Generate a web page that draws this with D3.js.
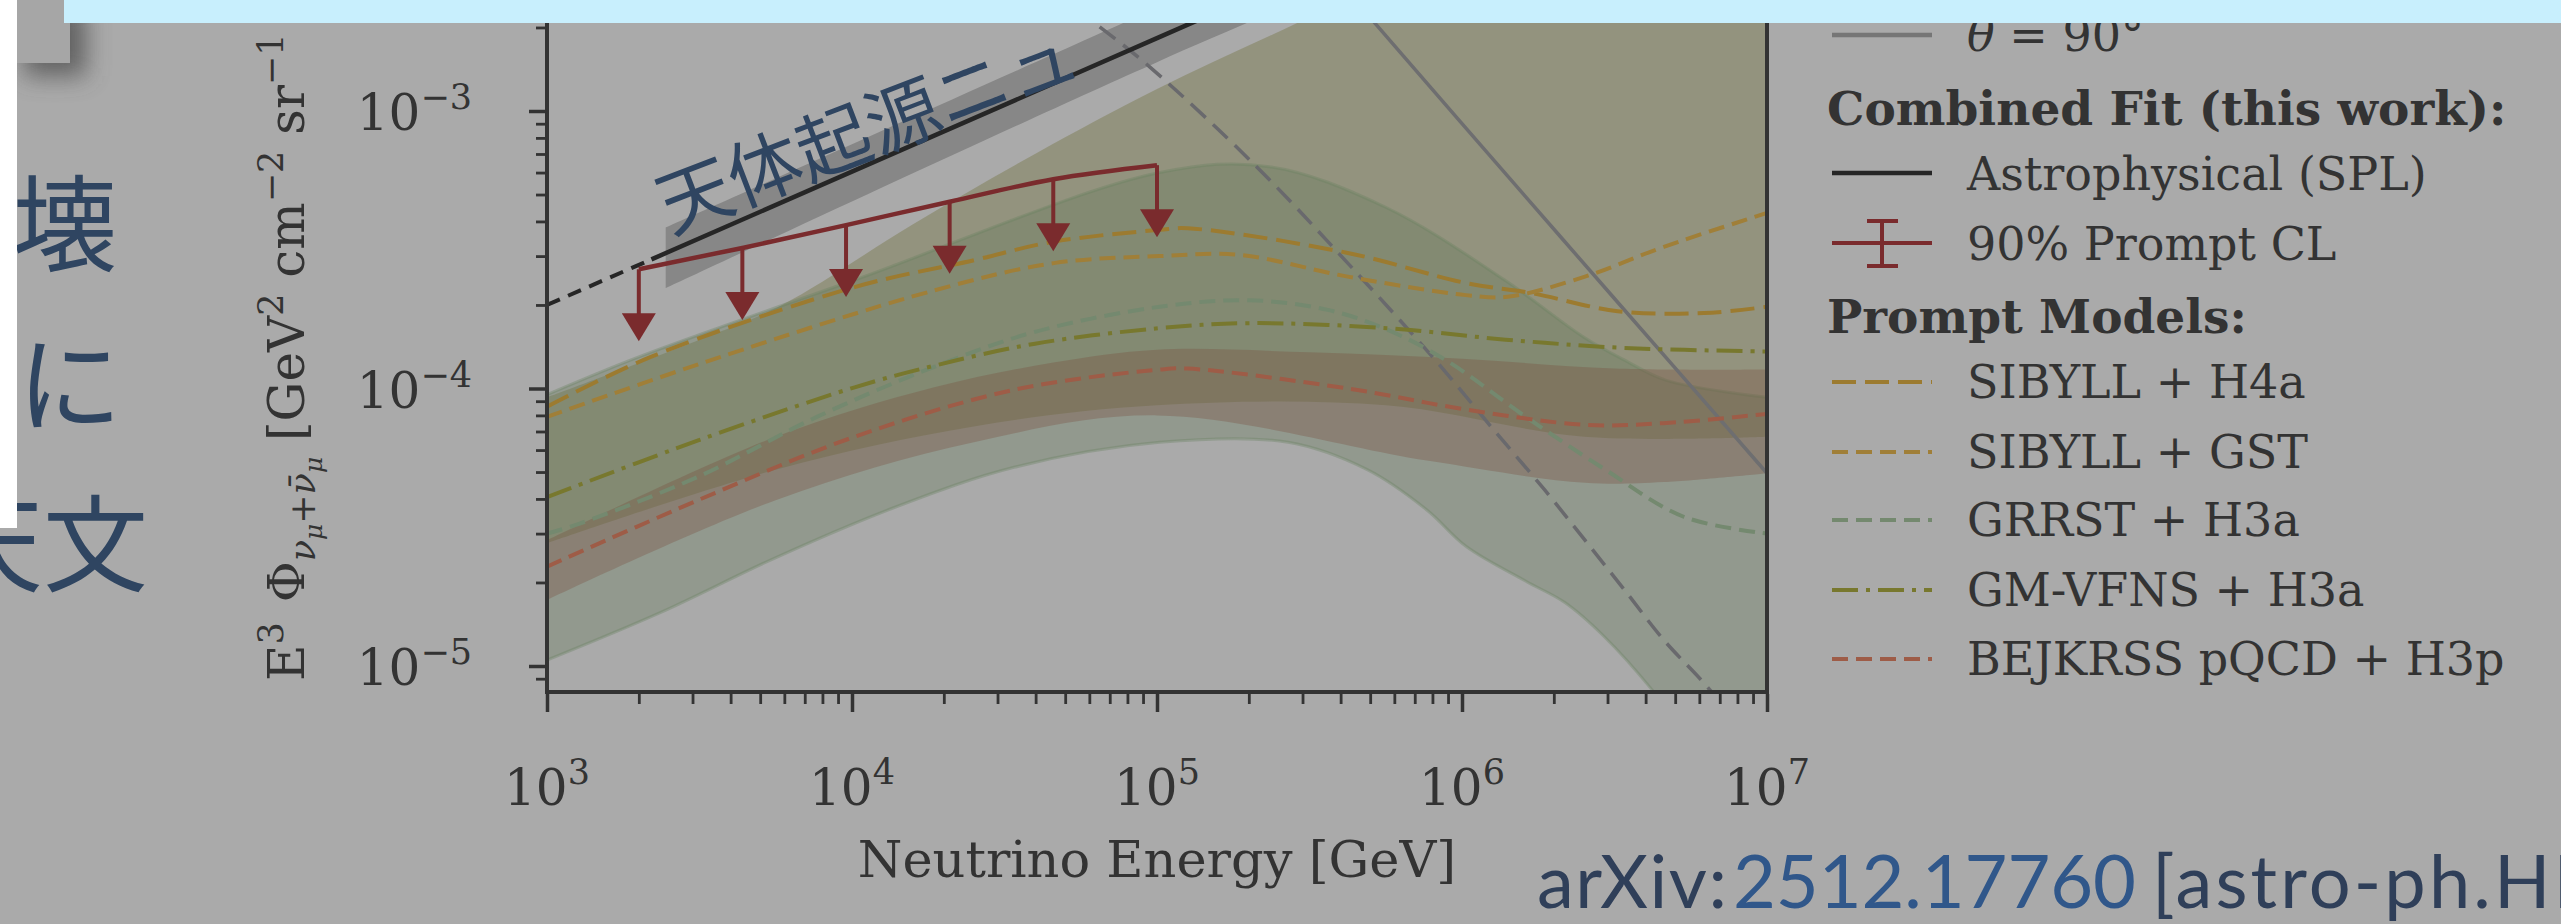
<!DOCTYPE html>
<html><head><meta charset="utf-8">
<script src="https://cdn.jsdelivr.net/npm/d3@7"></script>
<style>html,body{margin:0;padding:0;background:#aaaaaa;overflow:hidden}</style>
</head><body>
<svg id="chart" width="2561" height="924"></svg>
<script>
// ---------------- data ----------------
const xTickValues = [1e3, 1e4, 1e5, 1e6, 1e7];
const xTickExponents = ["3", "4", "5", "6", "7"];
const yTickValues = [1e-5, 1e-4, 1e-3];
const yTickExponents = ["\u22125", "\u22124", "\u22123"];

// SIBYLL + H4a
const h4aE = [1e3, 2190, 10200, 25100, 45700, 102000, 126000, 422000, 1030000, 1680000, 3240000, 6210000, 1e7];
const h4aV = [8.6e-5, 1.30e-4, 2.32e-4, 2.90e-4, 3.38e-4, 3.73e-4, 3.78e-4, 3.08e-4, 2.40e-4, 2.21e-4, 1.90e-4, 1.87e-4, 1.97e-4];
// SIBYLL + GST
const gstE = [1e3, 3630, 18700, 45900, 102000, 186000, 422000, 1030000, 1410000, 2530000, 4590000, 1e7];
const gstV = [7.9e-5, 1.29e-4, 2.26e-4, 2.83e-4, 3.00e-4, 3.03e-4, 2.53e-4, 2.17e-4, 2.14e-4, 2.53e-4, 3.24e-4, 4.29e-4];
// GRRST + H3a
const grrstE = [1e3, 1280, 3130, 7670, 18700, 39800, 102000, 200000, 363000, 568000, 891000, 1620000, 2950000, 5330000, 1e7];
const grrstV = [3.0e-5, 3.26e-5, 4.81e-5, 7.9e-5, 1.2e-4, 1.6e-4, 1.97e-4, 2.08e-4, 1.92e-4, 1.63e-4, 1.26e-4, 7.9e-5, 5.1e-5, 3.45e-5, 3.0e-5];
// GM-VFNS + H3a
const gmE = [1e3, 3130, 10200, 18700, 39800, 102000, 200000, 568000, 1390000, 3410000, 1e7];
const gmV = [4.06e-5, 6.5e-5, 1.01e-4, 1.21e-4, 1.45e-4, 1.65e-4, 1.72e-4, 1.65e-4, 1.50e-4, 1.40e-4, 1.36e-4];
// BEJKRSS pQCD + H3p
const bejE = [1e3, 3130, 10200, 34100, 102000, 126000, 422000, 1030000, 2530000, 4570000, 1e7];
const bejV = [2.28e-5, 3.96e-5, 6.7e-5, 9.9e-5, 1.17e-4, 1.18e-4, 1.0e-4, 8.4e-5, 7.4e-5, 7.5e-5, 8.1e-5];

// uncertainty bands
const khakiUpE = [1e3, 3160, 5890, 15800, 39800, 100000, 295000, 1e6, 1e7];
const khakiUpV = [9.3e-5, 1.5e-4, 2.0e-4, 3.9e-4, 7.0e-4, 1.2e-3, 2.1e-3, 4e-3, 1e-2];
const khakiLoE = [1e3, 5620, 25100, 100000, 562000, 2510000, 1e7];
const khakiLoV = [2.77e-5, 5.1e-5, 7.3e-5, 8.7e-5, 8.7e-5, 6.7e-5, 6.7e-5];

const greenUpE = [1e3, 2000, 10200, 102000, 234000, 562000, 1380000, 2510000, 3390000, 4680000, 1e7];
const greenUpV = [9.5e-5, 1.3e-4, 2.46e-4, 6.0e-4, 6.3e-4, 4.5e-4, 2.46e-4, 1.53e-4, 1.27e-4, 1.07e-4, 9.3e-5];
const greenLoE = [1e3, 2330, 5680, 13900, 34000, 102000, 269000, 489000, 767000, 1030000, 1620000, 2180000, 2940000, 4200000, 6310000, 1e7];
const greenLoV = [1.05e-5, 1.55e-5, 2.47e-5, 3.74e-5, 5.2e-5, 6.4e-5, 6.4e-5, 5.1e-5, 3.65e-5, 2.7e-5, 2.02e-5, 1.69e-5, 1.27e-5, 8.2e-6, 4.5e-6, 2.5e-6];

const brownUpE = [1e3, 5620, 18600, 45700, 100000, 316000, 1e6, 3160000, 1e7];
const brownUpV = [2.84e-5, 6.7e-5, 1.01e-4, 1.24e-4, 1.38e-4, 1.35e-4, 1.28e-4, 1.18e-4, 1.17e-4];
const brownLoE = [1e3, 5620, 25100, 100000, 767000, 2530000, 4590000, 1e7];
const brownLoV = [1.73e-5, 3.96e-5, 6.4e-5, 8.0e-5, 5.5e-5, 4.57e-5, 4.6e-5, 4.95e-5];

// astrophysical SPL fit
const astroDashE = [1e3, 2200];
const astroDashV = [2.0e-4, 2.92e-4];
const astroLineE = [2200, 100000, 1e6];
const astroLineV = [2.92e-4, 1.83e-3, 5.55e-3];
const astroBandE = [2450, 100000, 1e6];
const astroBandUp = [3.8e-4, 2.35e-3, 7.2e-3];
const astroBandLo = [2.3e-4, 1.5e-3, 4.4e-3];

// 90% prompt upper limits
const limitE = [2000, 4370, 9560, 20900, 45700, 100000];
const limitV = [2.69e-4, 3.21e-4, 3.88e-4, 4.71e-4, 5.68e-4, 6.38e-4];

// gray reference lines
const grayDashE = [31600, 62700, 94800, 212000, 422000, 815000, 1270000, 1870000, 2530000, 3410000, 4590000, 6380000, 1e7];
const grayDashV = [3.7e-3, 2.07e-3, 1.44e-3, 6.3e-4, 2.83e-4, 1.27e-4, 7.1e-5, 4.3e-5, 2.84e-5, 1.88e-5, 1.24e-5, 8.4e-6, 4.6e-6];
const graySolidE = [316000, 519000, 1e6, 3160000, 1e7];
const graySolidV = [3.87e-3, 2.07e-3, 9.0e-4, 2.11e-4, 4.95e-5];

const legendLabels = ["SIBYLL + H4a", "SIBYLL + GST", "GRRST + H3a", "GM-VFNS + H3a", "BEJKRSS pQCD + H3p"];
const modelColors = ["#9c7b30", "#a07f38", "#74896f", "#78782e", "#9e5c47"];
const modelDashes = ["24,9", "16,8", "16,8", "26,8,4,8", "16,8"];

// ---------------- drawing ----------------
const svg = d3.select('#chart');
const serif = "'DejaVu Serif', serif";
const ink = "#333333";

svg.append('rect').attr('width', 2561).attr('height', 924).attr('fill', '#aaaaaa');

const defs = svg.append('defs');
defs.append('filter').attr('id', 'shadow').attr('x', '-1').attr('y', '-1').attr('width', '3').attr('height', '3')
  .append('feGaussianBlur').attr('stdDeviation', 12);
defs.append('clipPath').attr('id', 'plotclip').append('rect')
  .attr('x', 547).attr('y', -60).attr('width', 1220).attr('height', 752);

// slide fragments on the left
const jp = "'Noto Sans CJK JP', sans-serif";
svg.append('text').attr('x', 12).attr('y', 263).attr('font-family', jp).attr('font-size', 105).attr('fill', '#2f4561').text('壊');
svg.append('text').attr('x', 17).attr('y', 423).attr('font-family', jp).attr('font-size', 105).attr('fill', '#2f4561').text('に');
svg.append('text').attr('x', 148).attr('y', 583).attr('text-anchor', 'end').attr('font-family', jp).attr('font-size', 105).attr('fill', '#2f4561').text('天文');
svg.append('rect').attr('x', 24).attr('y', 6).attr('width', 62).attr('height', 70).attr('fill', '#4a4a4a').attr('opacity', 0.75).attr('filter', 'url(#shadow)');
svg.append('rect').attr('x', 17).attr('y', 0).attr('width', 53).attr('height', 63).attr('fill', '#a6a6a6');
svg.append('rect').attr('x', 0).attr('y', 0).attr('width', 17).attr('height', 528).attr('fill', '#ffffff');

// scales
const x = d3.scaleLog().domain([1e3, 1e7]).range([547, 1767]);
const y = d3.scaleLog().domain([1e-5, 1e-3]).range([666, 111]);
const pts = (E, V) => E.map((e, i) => [x(e), y(V[i])]);
const lineGen = d3.line().curve(d3.curveCatmullRom.alpha(0.5));
const bandPath = (Eu, Vu, El, Vl) => {
  const up = pts(Eu, Vu), lo = pts(El, Vl).reverse();
  return lineGen(up) + 'L' + lineGen(lo).slice(1) + 'Z';
};

const plot = svg.append('g').attr('clip-path', 'url(#plotclip)');

// bands
plot.append('path').attr('d', bandPath(khakiUpE, khakiUpV, khakiLoE, khakiLoV)).attr('fill', '#6b6b2f').attr('fill-opacity', 0.35);
plot.append('path').attr('d', bandPath(greenUpE, greenUpV, greenLoE, greenLoV)).attr('fill', '#687c5d').attr('fill-opacity', 0.35)
  .attr('stroke', '#66805f').attr('stroke-opacity', 0.35).attr('stroke-width', 3);
plot.append('path').attr('d', bandPath(brownUpE, brownUpV, brownLoE, brownLoV)).attr('fill', '#784a38').attr('fill-opacity', 0.3);
plot.append('path').attr('d', bandPath(astroBandE, astroBandUp, astroBandE, astroBandLo)).attr('fill', '#878787');

// gray reference lines
plot.append('path').attr('d', lineGen(pts(grayDashE, grayDashV))).attr('fill', 'none').attr('stroke', '#69696d').attr('stroke-width', 3.5).attr('stroke-dasharray', '20,10');
plot.append('path').attr('d', lineGen(pts(graySolidE, graySolidV))).attr('fill', 'none').attr('stroke', '#6e6e70').attr('stroke-width', 3.5);

// model curves
const models = [[h4aE, h4aV], [gstE, gstV], [grrstE, grrstV], [gmE, gmV], [bejE, bejV]];
models.forEach((m, i) => {
  plot.append('path').attr('d', lineGen(pts(m[0], m[1]))).attr('fill', 'none')
    .attr('stroke', modelColors[i]).attr('stroke-width', 4).attr('stroke-dasharray', modelDashes[i]);
});

// astrophysical line
plot.append('path').attr('d', lineGen(pts(astroDashE, astroDashV))).attr('fill', 'none').attr('stroke', '#262626').attr('stroke-width', 4).attr('stroke-dasharray', '14,9');
plot.append('path').attr('d', lineGen(pts(astroLineE, astroLineV))).attr('fill', 'none').attr('stroke', '#262626').attr('stroke-width', 4.5);

// upper limits
const red = '#7a2b2d';
plot.append('path').attr('d', d3.line().curve(d3.curveMonotoneX)(pts(limitE, limitV))).attr('fill', 'none').attr('stroke', red).attr('stroke-width', 4.5);
limitE.forEach((e, i) => {
  const px = x(e), py = y(limitV[i]);
  plot.append('line').attr('x1', px).attr('x2', px).attr('y1', py).attr('y2', py + 46).attr('stroke', red).attr('stroke-width', 4);
  plot.append('path').attr('d', `M${px - 17},${py + 44}L${px + 17},${py + 44}L${px},${py + 72}Z`).attr('fill', red);
});

// annotation along the astrophysical band
svg.append('text').attr('transform', 'translate(866,124) rotate(-21)').attr('text-anchor', 'middle')
  .attr('dominant-baseline', 'central').attr('font-family', jp).attr('font-size', 74).attr('fill', '#2f4561').text('天体起源ニュ');

// spines
svg.append('line').attr('x1', 547).attr('x2', 547).attr('y1', 0).attr('y2', 694).attr('stroke', ink).attr('stroke-width', 4);
svg.append('line').attr('x1', 545).attr('x2', 1769).attr('y1', 692).attr('y2', 692).attr('stroke', ink).attr('stroke-width', 4);
svg.append('line').attr('x1', 1767).attr('x2', 1767).attr('y1', 0).attr('y2', 694).attr('stroke', ink).attr('stroke-width', 4);

// ticks
const xMinor = d3.scaleLog().domain([1e3, 1e7]).ticks().filter(v => xTickValues.indexOf(v) < 0);
const yMinor = d3.scaleLog().domain([8.5e-6, 2.5e-3]).ticks().filter(v => yTickValues.every(t => Math.abs(t - v) / t > 1e-6));
const gx = svg.append('g').attr('transform', 'translate(0,694)');
gx.call(d3.axisBottom(x).tickValues(xMinor).tickSize(10).tickFormat('').tickSizeOuter(0));
gx.call(g => g.select('.domain').remove());
gx.selectAll('line').attr('stroke', ink).attr('stroke-width', 2.8);
const gx2 = svg.append('g').attr('transform', 'translate(0,694)');
gx2.call(d3.axisBottom(x).tickValues(xTickValues).tickSize(18).tickFormat('').tickSizeOuter(0));
gx2.call(g => g.select('.domain').remove());
gx2.selectAll('line').attr('stroke', ink).attr('stroke-width', 3.5);

const gy = svg.append('g').attr('transform', 'translate(545,0)');
gy.call(d3.axisLeft(y).tickValues(yMinor).tickSize(9).tickFormat('').tickSizeOuter(0));
gy.call(g => g.select('.domain').remove());
gy.selectAll('line').attr('stroke', ink).attr('stroke-width', 2.8);
const gy2 = svg.append('g').attr('transform', 'translate(545,0)');
gy2.call(d3.axisLeft(y).tickValues(yTickValues).tickSize(16).tickFormat('').tickSizeOuter(0));
gy2.call(g => g.select('.domain').remove());
gy2.selectAll('line').attr('stroke', ink).attr('stroke-width', 3.5);

// tick labels
xTickValues.forEach((v, i) => {
  const t = svg.append('text').attr('x', x(v)).attr('y', 805).attr('text-anchor', 'middle')
    .attr('font-family', serif).attr('font-size', 50).attr('fill', ink);
  t.append('tspan').text('10');
  t.append('tspan').attr('font-size', 35).attr('dy', -21).text(xTickExponents[i]);
});
yTickValues.forEach((v, i) => {
  const t = svg.append('text').attr('x', 472).attr('y', y(v) + 19).attr('text-anchor', 'end')
    .attr('font-family', serif).attr('font-size', 50).attr('fill', ink);
  t.append('tspan').text('10');
  t.append('tspan').attr('font-size', 35).attr('dy', -21).text(yTickExponents[i]);
});

// axis labels
svg.append('text').attr('x', 1157).attr('y', 877).attr('text-anchor', 'middle').attr('font-family', serif)
  .attr('font-size', 51).attr('fill', ink).text('Neutrino Energy [GeV]');

const yl = svg.append('text').attr('transform', 'translate(304,681) rotate(-90)').attr('font-family', serif)
  .attr('font-size', 50).attr('fill', ink);
const yParts = [
  ['E', 50, 0, false], ['3', 35, -21, false], ['\u2009\u2009Φ', 50, 21, false],
  ['ν', 35, 11, true], ['μ', 25, 7, true], ['+', 35, -7, false], ['ν̄', 35, 0, true], ['μ', 25, 7, true],
  ['  [GeV', 50, -18, false], ['2', 35, -21, false], [' cm', 50, 21, false], ['\u22122', 35, -21, false],
  [' sr', 50, 21, false], ['\u22121', 35, -21, false], [' s', 50, 21, false], ['\u22121', 35, -21, false], [']', 50, 21, false]
];
yParts.forEach(p => {
  const s = yl.append('tspan').attr('font-size', p[1]).attr('dy', p[2]).text(p[0]);
  if (p[3]) s.attr('font-style', 'italic');
});

// legend
const lg = svg.append('g');
const hx1 = 1832, hx2 = 1932, tx = 1967;
function handleLine(yy, color, dash, w) {
  const l = lg.append('line').attr('x1', hx1).attr('x2', hx2).attr('y1', yy).attr('y2', yy).attr('stroke', color).attr('stroke-width', w || 4);
  if (dash) l.attr('stroke-dasharray', dash);
}
function legText(yy, txt, bold) {
  return lg.append('text').attr('x', bold ? 1827 : tx).attr('y', yy).attr('font-family', serif)
    .attr('font-size', bold ? 47 : 46).attr('font-weight', bold ? 'bold' : 'normal').attr('fill', ink).text(txt);
}
handleLine(35, '#767676', null, 4.5);
const th = lg.append('text').attr('x', tx).attr('y', 51).attr('font-family', serif).attr('font-size', 46).attr('fill', ink);
th.append('tspan').attr('font-style', 'italic').text('θ');
th.append('tspan').text(' = 90°');
legText(125, 'Combined Fit (this work):', true);
handleLine(173, '#262626', null, 4.5);
legText(190, 'Astrophysical (SPL)');
handleLine(243, red, null, 4);
lg.append('line').attr('x1', 1882).attr('x2', 1882).attr('y1', 220).attr('y2', 267).attr('stroke', red).attr('stroke-width', 4);
lg.append('line').attr('x1', 1867).attr('x2', 1898).attr('y1', 221).attr('y2', 221).attr('stroke', red).attr('stroke-width', 4);
lg.append('line').attr('x1', 1867).attr('x2', 1898).attr('y1', 266).attr('y2', 266).attr('stroke', red).attr('stroke-width', 4);
legText(260, '90% Prompt CL');
legText(333, 'Prompt Models:', true);
const rowY = [382, 452, 520, 590, 659];
legendLabels.forEach((lab, i) => {
  handleLine(rowY[i], modelColors[i], modelDashes[i], 4);
  legText(rowY[i] + 16, lab);
});

// arXiv reference (three runs, widths matched to the slide)
const sans = "Lato, 'Open Sans', sans-serif";
svg.append('text').attr('x', 1537).attr('y', 908).attr('font-family', sans).attr('font-size', 74)
  .attr('fill', '#2f3f59').attr('textLength', 190).attr('lengthAdjust', 'spacing').text('arXiv:');
svg.append('text').attr('x', 1733).attr('y', 908).attr('font-family', sans).attr('font-size', 74)
  .attr('fill', '#30578a').attr('textLength', 403).attr('lengthAdjust', 'spacing').text('2512.17760');
svg.append('text').attr('x', 2152).attr('y', 908).attr('font-family', sans).attr('font-size', 74)
  .attr('fill', '#2f3f59').attr('textLength', 470).attr('lengthAdjust', 'spacing').text('[astro-ph.HE]');

// top banner
svg.append('rect').attr('x', 64).attr('y', 0).attr('width', 2497).attr('height', 23).attr('fill', '#c8effd');
</script></body></html>
